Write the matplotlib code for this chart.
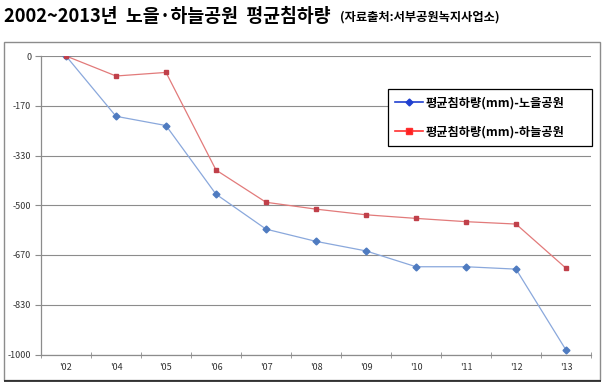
import numpy as np
import matplotlib
matplotlib.use("Agg")
import matplotlib.pyplot as plt
from matplotlib.lines import Line2D
from matplotlib.patches import Rectangle

plt.rcParams['font.family'] = ['Noto Sans CJK KR', 'DejaVu Sans']

years = ["'02", "'04", "'05", "'06", "'07", "'08", "'09", "'10", "'11", "'12", "'13"]
noeul = [0, -202, -233, -463, -580, -621, -653, -706, -706, -714, -985]
haneul = [0, -67, -55, -382, -490, -513, -532, -544, -555, -563, -711]
y_ticks = [0, -170, -330, -500, -670, -830, -1000]

fig = plt.figure(figsize=(6.05, 3.85), dpi=100)

# outer chart frame
fig.patches.append(Rectangle((4 / 605, 1 - 380 / 385), 596 / 605, 338 / 385,
                             transform=fig.transFigure, fill=False,
                             edgecolor='#8c8c8c', linewidth=1.0))
fig.patches.append(Rectangle((4 / 605, 1 - 381 / 385), 597 / 605, 0,
                             transform=fig.transFigure, fill=False,
                             edgecolor='#202020', linewidth=1.2))

ax = fig.add_axes([41 / 605, 1 - 354.5 / 385, 550 / 605, 298.5 / 385])

x = np.arange(len(years))
ax.plot(x, noeul, color='#8aa8dc', linewidth=0.9, marker='D', markersize=3.5,
        markerfacecolor='#4f7bc0', markeredgecolor='#4f7bc0', zorder=3)
ax.plot(x, haneul, color='#e27a7a', linewidth=0.9, marker='s', markersize=3.5,
        markerfacecolor='#c0404a', markeredgecolor='#c0404a', zorder=3)

ax.set_xlim(-0.5, len(years) - 0.5)
ax.set_ylim(-1000, 0)
ax.set_yticks(np.linspace(0, -1000, 7))
ax.set_yticklabels([str(v) for v in y_ticks])
ax.set_xticks(x)
ax.set_xticklabels(years)
ax.set_xticks(np.arange(-0.5, len(years)), minor=True)
ax.tick_params(axis='x', which='major', length=0, pad=6, labelsize=6.5, colors='#333333')
ax.tick_params(axis='x', which='minor', length=4, direction='inout', color='#8c8c8c')
ax.tick_params(axis='y', length=4, direction='out', color='#8c8c8c', labelsize=6.5,
               colors='#333333', pad=3)
ax.tick_params(axis='y', colors='#8c8c8c', labelcolor='#333333')
ax.grid(axis='y', color='#8c8c8c', linewidth=0.8)
ax.set_axisbelow(True)
for s in ['top', 'right']:
    ax.spines[s].set_visible(False)
for s in ['left', 'bottom']:
    ax.spines[s].set_color('#8c8c8c')
    ax.spines[s].set_linewidth(0.9)

handles = [
    Line2D([], [], color='#2040d0', linewidth=1.2, marker='D', markersize=3.5,
           markerfacecolor='#2040d0'),
    Line2D([], [], color='#ff3030', linewidth=1.2, marker='s', markersize=4,
           markerfacecolor='#ff2020'),
]
leg_x0 = (388 - 41) / 550
leg_w = (592 - 388) / 550
leg_top = 1 - (89 - 56) / 298.5
leg = ax.legend(handles, ['평균침하량(mm)-노을공원', '평균침하량(mm)-하늘공원'],
                loc='upper left', bbox_to_anchor=(leg_x0, leg_top - 0.01, leg_w, 0.01),
                mode='expand', borderaxespad=0, frameon=True, fancybox=False,
                edgecolor='#000000', framealpha=1, prop={'size': 8.8, 'weight': 'bold'},
                handlelength=2.3, labelspacing=1.3, borderpad=0.6, handletextpad=0.2)
leg.get_frame().set_linewidth(0.9)

fig.text(0.006, 0.983, '2002~2013년  노을·하늘공원  평균침하량', fontsize=13.2,
         fontweight='bold', va='top', ha='left')
fig.text(340 / 605, 0.972, '(자료출처:서부공원녹지사업소)', fontsize=8.8,
         fontweight='bold', va='top', ha='left')

fig.savefig('out.png', dpi=100)
